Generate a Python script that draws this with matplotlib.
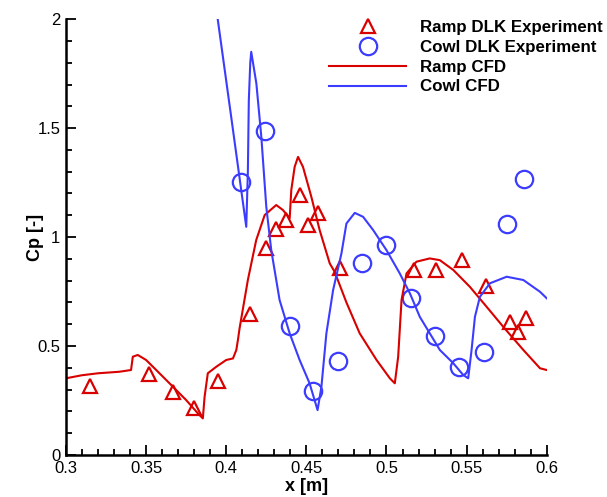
import matplotlib.pyplot as plt
from matplotlib.ticker import MultipleLocator

# Ramp DLK experiment (triangles)
ramp_exp_x = [0.315, 0.352, 0.367, 0.380, 0.395, 0.415, 0.425, 0.431, 0.437, 0.446,
              0.451, 0.457, 0.471, 0.517, 0.531, 0.547, 0.562, 0.577, 0.582, 0.587]
ramp_exp_y = [0.317, 0.370, 0.290, 0.215, 0.340, 0.645, 0.950, 1.035, 1.080, 1.195,
              1.055, 1.110, 0.860, 0.850, 0.850, 0.895, 0.775, 0.610, 0.565, 0.630]

# Cowl DLK experiment (circles)
cowl_exp_x = [0.409, 0.424, 0.440, 0.454, 0.470, 0.485, 0.500, 0.515, 0.530, 0.545,
              0.561, 0.575, 0.586]
cowl_exp_y = [1.252, 1.486, 0.592, 0.294, 0.431, 0.881, 0.963, 0.720, 0.546, 0.404,
              0.472, 1.060, 1.266]

# Ramp CFD
ramp_cfd_x = [0.300, 0.310, 0.320, 0.3333, 0.3406, 0.3417, 0.3448, 0.350, 0.3563, 0.3646,
              0.375, 0.3823, 0.3854, 0.3865, 0.3885, 0.3938, 0.400, 0.4042, 0.4063, 0.4073,
              0.4083, 0.4135, 0.4187, 0.424, 0.4312, 0.4354, 0.4396, 0.4406, 0.4427, 0.4448,
              0.4479, 0.4531, 0.4583, 0.4646, 0.4677, 0.475, 0.4833, 0.4938, 0.5021, 0.5052,
              0.5073, 0.5094, 0.5125, 0.5187, 0.527, 0.5333, 0.5417, 0.552, 0.5625, 0.5729,
              0.5854, 0.5958, 0.600]
ramp_cfd_y = [0.352, 0.366, 0.375, 0.382, 0.390, 0.451, 0.459, 0.436, 0.390, 0.329,
              0.252, 0.191, 0.168, 0.267, 0.375, 0.405, 0.436, 0.443, 0.482, 0.528,
              0.580, 0.803, 0.986, 1.101, 1.147, 1.124, 1.086, 1.216, 1.322, 1.368,
              1.322, 1.185, 1.032, 0.879, 0.840, 0.700, 0.558, 0.436, 0.352, 0.329,
              0.451, 0.711, 0.833, 0.887, 0.902, 0.894, 0.849, 0.772, 0.680, 0.588,
              0.482, 0.398, 0.390]

# Cowl CFD
cowl_cfd_x = [0.3945, 0.4035, 0.4125, 0.4135, 0.4141, 0.4150, 0.4156, 0.4188, 0.4219, 0.425,
              0.4281, 0.4333, 0.4396, 0.4458, 0.452, 0.457, 0.4594, 0.4625, 0.4667, 0.4719,
              0.475, 0.4802, 0.4854, 0.4917, 0.500, 0.5083, 0.5146, 0.5208, 0.5333, 0.5417,
              0.5479, 0.551, 0.5531, 0.5552, 0.5583, 0.5646, 0.575, 0.5854, 0.5958, 0.600]
cowl_cfd_y = [2.010, 1.530, 1.047, 1.300, 1.628, 1.800, 1.850, 1.705, 1.460, 1.139,
              0.940, 0.711, 0.558, 0.436, 0.329, 0.206, 0.313, 0.558, 0.757, 0.925,
              1.062, 1.111, 1.093, 1.032, 0.940, 0.833, 0.742, 0.634, 0.482, 0.421,
              0.367, 0.352, 0.482, 0.634, 0.726, 0.788, 0.818, 0.803, 0.749, 0.719]

red = '#d90000'
blue = '#3c3cff'

plt.rcParams['font.family'] = ['Liberation Sans', 'DejaVu Sans']

fig = plt.figure(figsize=(6.07, 4.97), dpi=100)
ax = fig.add_axes([0.1087, 0.0845, 0.792, 0.877])

ax.plot(ramp_exp_x, ramp_exp_y, '^', ms=10, mfc='none', mec=red, mew=1.6,
        label='Ramp DLK Experiment', clip_on=False)
ax.plot(cowl_exp_x, cowl_exp_y, 'o', ms=12.5, mfc='none', mec=blue, mew=1.6,
        label='Cowl DLK Experiment', clip_on=False)
ax.plot(ramp_cfd_x, ramp_cfd_y, '-', color=red, lw=1.5, label='Ramp CFD')
ax.plot(cowl_cfd_x, cowl_cfd_y, '-', color=blue, lw=1.5, label='Cowl CFD')

ax.set_xlim(0.3, 0.6)
ax.set_ylim(0, 2)
ax.xaxis.set_minor_locator(MultipleLocator(0.01))
ax.yaxis.set_minor_locator(MultipleLocator(0.1))
ax.set_xticks([0.3, 0.35, 0.4, 0.45, 0.5, 0.55, 0.6])
ax.set_xticklabels(['0.3', '0.35', '0.4', '0.45', '0.5', '0.55', '0.6'])
ax.set_yticks([0, 0.5, 1, 1.5, 2])
ax.set_yticklabels(['0', '0.5', '1', '1.5', '2'])

for s in ['top', 'right']:
    ax.spines[s].set_visible(False)
for s in ['left', 'bottom']:
    ax.spines[s].set_linewidth(1.8)
ax.tick_params(which='both', direction='in', width=1.3, labelsize=12, pad=4)
ax.tick_params(which='major', length=7)
ax.tick_params(which='minor', length=4)

ax.set_xlabel('x [m]', fontsize=13, fontweight='bold', labelpad=2)
ax.set_ylabel('Cp [-]', fontsize=13, fontweight='bold')
ax.yaxis.set_label_coords(-0.045, 0.5)

ax.legend(loc='upper right', bbox_to_anchor=(1.018, 0.99), bbox_transform=fig.transFigure,
          frameon=False, prop={'weight': 'bold', 'size': 12.2}, handlelength=4.5,
          handletextpad=0.85, labelspacing=0.28, borderpad=0.4)

fig.savefig('out.png', dpi=100)
